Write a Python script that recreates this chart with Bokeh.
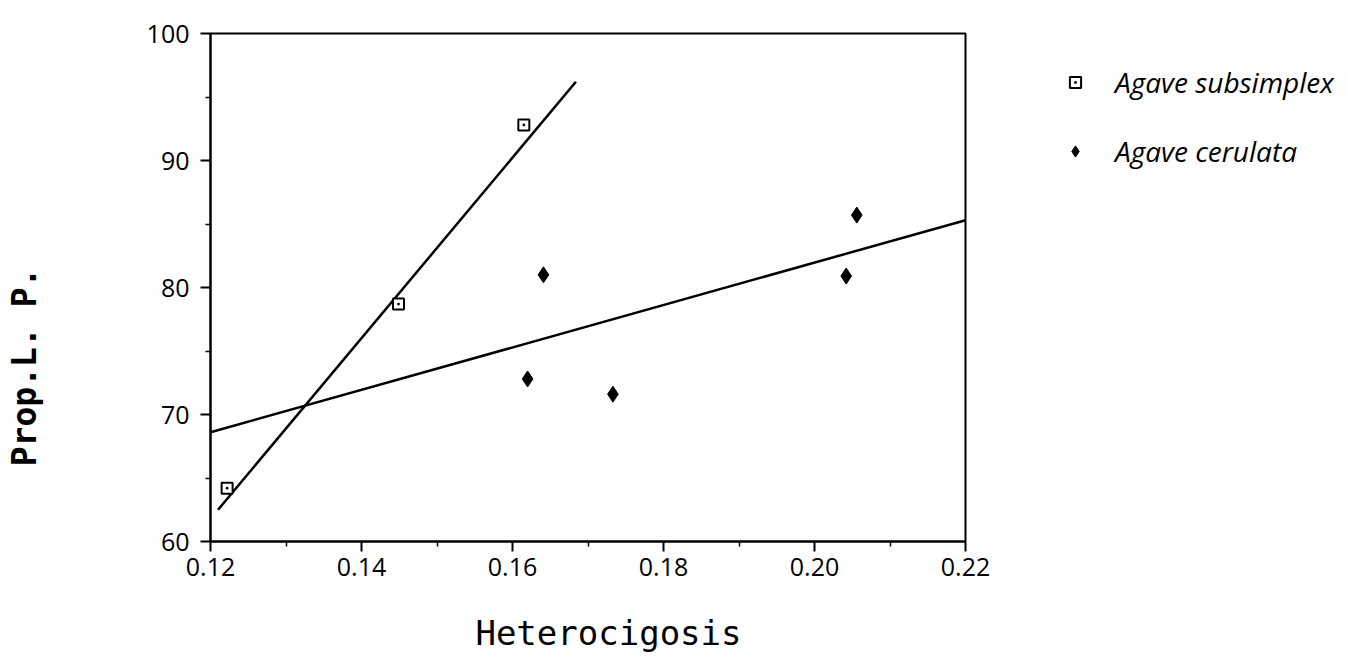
import math
from bokeh.plotting import figure
from bokeh.models import FixedTicker, Legend, LegendItem, Range1d
from bokeh.embed import file_html
from bokeh.resources import INLINE

# ---- data ----
subsimplex_x = [0.1222, 0.1449, 0.1615]
subsimplex_y = [64.2, 78.7, 92.8]
cerulata_x = [0.1620, 0.1641, 0.1733, 0.2042, 0.2056]
cerulata_y = [72.8, 81.0, 71.6, 80.9, 85.7]
subsimplex_fit_x = [0.1210, 0.1684]
subsimplex_fit_y = [62.5, 96.2]
cerulata_fit_x = [0.1200, 0.2200]
cerulata_fit_y = [68.6, 85.3]
x_ticks = [0.12, 0.14, 0.16, 0.18, 0.20, 0.22]
x_tick_labels = ["0.12", "0.14", "0.16", "0.18", "0.20", "0.22"]
y_ticks = [60, 70, 80, 90, 100]
series_names = ["Agave subsimplex", "Agave cerulata"]
x_title = "Heterocigosis"
y_title = "Prop.L. P."

NB = "\u00a0"

p = figure(output_backend="svg", toolbar_location=None,
           frame_width=755, frame_height=508,
           min_border_left=210, min_border_right=383,
           min_border_top=33, min_border_bottom=115,
           x_range=Range1d(0.12, 0.22), y_range=Range1d(60, 100))
p.background_fill_color = "white"
p.border_fill_color = "white"
p.grid.visible = False
p.outline_line_color = "black"
p.outline_line_width = 2
p.outline_line_alpha = 1

for ax in (p.xaxis[0], p.yaxis[0]):
    ax.axis_line_width = 2
    ax.axis_line_color = "black"
    ax.major_tick_line_width = 2
    ax.major_tick_line_color = "black"
    ax.major_tick_out = 10
    ax.major_tick_in = 0
    ax.minor_tick_line_width = 1.5
    ax.minor_tick_line_color = "black"
    ax.minor_tick_out = 5
    ax.minor_tick_in = 0
    ax.major_label_text_font = "Open Sans"
    ax.major_label_text_font_size = "25px"
    ax.major_label_text_color = "black"
    ax.axis_label_text_font = "DejaVu Sans Mono"
    ax.axis_label_text_color = "black"

xa = p.xaxis[0]
xa.ticker = FixedTicker(ticks=x_ticks, minor_ticks=[0.13, 0.15, 0.17, 0.19, 0.21])
xa.major_label_overrides = dict(zip(x_ticks, x_tick_labels))
xa.major_label_standoff = 6
xa.axis_label = NB * 2 + x_title
xa.axis_label_text_font_size = "34px"
xa.axis_label_text_font_style = "normal"
xa.axis_label_standoff = 34

ya = p.yaxis[0]
ya.ticker = FixedTicker(ticks=y_ticks, minor_ticks=[65, 75, 85, 95])
ya.major_label_standoff = 11
ya.axis_label = y_title + NB * 8
ya.axis_label_text_font_size = "33px"
ya.axis_label_text_font_style = "bold"
ya.axis_label_standoff = 100

# regression lines
p.line(subsimplex_fit_x, subsimplex_fit_y, line_color="black", line_width=2.5)
p.line(cerulata_fit_x, cerulata_fit_y, line_color="black", line_width=2.5)

# points
r_sub = p.scatter(subsimplex_x, subsimplex_y, marker="square_dot", size=11,
                  line_color="black", line_width=2, fill_color="white")
r_cer = p.scatter(cerulata_x, cerulata_y, marker="diamond", size=16,
                  line_color="black", line_width=1, fill_color="black")

legend = Legend(items=[LegendItem(label=series_names[0], renderers=[r_sub]),
                       LegendItem(label=series_names[1], renderers=[r_cer])],
                location=(96, 371), orientation="vertical",
                padding=0, margin=0, spacing=31,
                glyph_width=28, glyph_height=34, label_height=34,
                label_standoff=26,
                label_text_font="Open Sans", label_text_font_style="italic",
                label_text_font_size="28px", label_text_color="black",
                border_line_alpha=0, background_fill_alpha=0)
p.add_layout(legend, "right")

open("out.html", "w").write(file_html(p, INLINE))
